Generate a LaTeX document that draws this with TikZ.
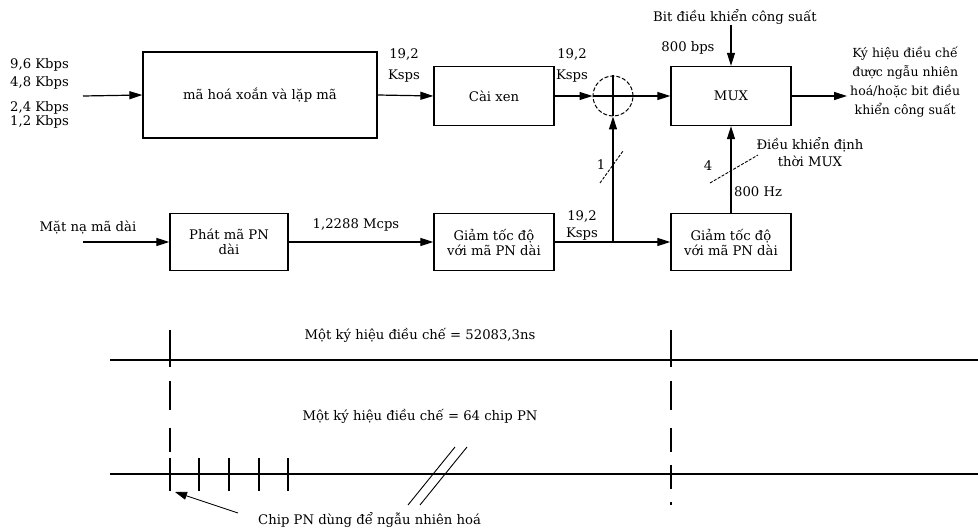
\documentclass[tikz,border=0pt]{standalone}
\usepackage{fontspec}
\setmainfont{DejaVu Serif}
\usetikzlibrary{arrows.meta}
\begin{document}
\begin{tikzpicture}[x=1pt,y=-1pt,
  font=\fontsize{13.2}{15}\selectfont,
  blk/.style={draw, line width=1.3pt, align=center, inner sep=2pt},
  arr/.style={-{Triangle[length=13pt,width=8pt]}, line width=1.2pt},
  thin/.style={line width=1.1pt},
  lbl/.style={inner sep=0pt, align=center},
  lbll/.style={inner sep=0pt, anchor=west}]
\useasboundingbox (0,0) rectangle (978,529);
% ---------- top row ----------
\node[blk, minimum width=234pt, minimum height=86pt] (enc) at (260,95) {mã hoá xoắn và lặp mã};
\node[blk, minimum width=120pt, minimum height=59pt] (intl) at (494,96) {Cài xen};
\node[draw, circle, dash pattern=on 4pt off 2pt, line width=1pt, minimum size=40pt, inner sep=0pt] (add) at (613,96) {};
\draw[thin] (add.north) -- (add.south);
\draw[thin] (add.west) -- (add.east);
\node[blk, minimum width=120pt, minimum height=59pt] (mux) at (731,96) {MUX};
\coordinate (in1) at (83,96);
\coordinate (out1) at (847,96);
\coordinate (pcin) at (731,25);
\node[lbll] (r1) at (10,65) {9,6 Kbps};
\node[lbll] (r2) at (10,83) {4,8 Kbps};
\node[lbll] (r3) at (10,108) {2,4 Kbps};
\node[lbll] (r4) at (10,122) {1,2 Kbps};
\node[lbl] (s1a) at (404,55) {19,2};
\node[lbl] (s1b) at (404,76) {Ksps};
\node[lbl] (s2a) at (572,55) {19,2};
\node[lbl] (s2b) at (572,76) {Ksps};
\node[lbl] (pcb) at (735,17) {Bit điều khiển công suất};
\node[lbl] (bps) at (688,48) {800 bps};
\node[lbl, anchor=west, font=\fontsize{12.5}{14}\selectfont] (outt) at (850,82) {Ký hiệu điều chế\\[5pt]được ngẫu nhiên\\[5pt]hoá/hoặc bit điều\\[5pt]khiển công suất};
\draw[arr] (in1) -- (enc.west);
\draw[arr] (enc.east) -- (intl.west);
\draw[arr] (intl.east) -- (add.west);
\draw[arr] (add.east) -- (mux.west);
\draw[arr] (mux.east) -- (out1);
\draw[arr] (pcin) -- (mux.north);
% ---------- bottom row ----------
\node[blk, minimum width=118pt, minimum height=57pt] (pngen) at (229,242) {Phát mã PN\\dài};
\node[blk, minimum width=120pt, minimum height=57pt] (dec1) at (494,242) {Giảm tốc độ\\với mã PN dài};
\node[blk, minimum width=120pt, minimum height=57pt] (dec2) at (731,242) {Giảm tốc độ\\với mã PN dài};
\coordinate (in2) at (83,242);
\coordinate (j) at (613,242);
\node[lbl] (mask) at (88,227) {Mặt nạ mã dài};
\node[lbl] (mcps) at (356,225) {1,2288 Mcps};
\node[lbl] (s3a) at (582,217) {19,2};
\node[lbl] (s3b) at (582,234) {Ksps};
\node[lbl] (one) at (601,165) {1};
\node[lbl] (four) at (708,166) {4};
\node[lbl, anchor=west] (hz) at (734,192) {800 Hz};
\node[lbl] (tim) at (810,152) {Điều khiển định\\[2pt]thời MUX};
\draw[arr] (in2) -- (pngen.west);
\draw[arr] (pngen.east) -- (dec1.west);
\draw[thin] (dec1.east) -- (j);
\draw[arr] (j) -- (dec2.west);
\draw[arr] (j) -- (add.south);
\draw[arr] (dec2.north) -- (mux.south);
\draw[line width=0.9pt, dash pattern=on 3pt off 1.5pt] (600,183) -- (623,151);
\draw[line width=0.9pt, dash pattern=on 3pt off 1.5pt] (710,183) -- (758,155);
% ---------- timing ----------
\node[lbl] (t1) at (420,335) {Một ký hiệu điều chế = 52083,3ns};
\node[lbl] (t2) at (420,416) {Một ký hiệu điều chế = 64 chip PN};
\node[lbll] (t3) at (258,520) {Chip PN dùng để ngẫu nhiên hoá};
\draw[line width=1.4pt] (110,360) -- (978,360);
\draw[line width=1.4pt] (110,474) -- (978,474);
\foreach \xx in {170,671}{
  \draw[thin] (\xx,330) -- (\xx,367);
  \draw[thin] (\xx,381) -- (\xx,410);
  \draw[thin] (\xx,428) -- (\xx,452);
}
\foreach \xx in {170,199,229,259,288}{
  \draw[thin] (\xx,458) -- (\xx,491);
}
\draw[thin] (671,465) -- (671,489);
\draw[thin] (671,502) -- (671,505);
\draw[line width=0.9pt] (408,505) -- (455,447);
\draw[line width=0.9pt] (420,505) -- (467,447);
\coordinate (tip) at (175,492);
\draw[-{Triangle[length=12pt,width=8pt]}, line width=0.8pt] (t3.west) ++(-20,-7) -- (tip);
\end{tikzpicture}
\end{document}
